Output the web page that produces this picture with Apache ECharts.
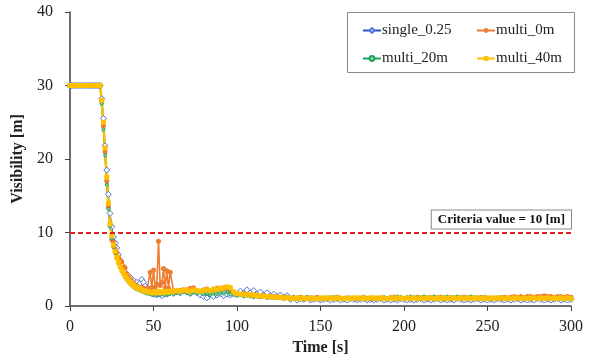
<!DOCTYPE html>
<html>
<head>
<meta charset="utf-8">
<script src="https://cdn.jsdelivr.net/npm/echarts@6/dist/echarts.min.js"></script>
<style>
  html, body { margin: 0; padding: 0; background: #fff; }
  #chart { width: 595px; height: 358px; }
</style>
</head>
<body>
<div id="chart"></div>
<script>
const times = [
  0, 1, 2, 3, 4, 5, 6, 7, 8, 9, 10, 11, 12, 13, 14, 15, 16, 17, 18,
  19, 20, 21, 22, 23, 24, 25, 26, 27, 28, 29, 30, 31, 32, 33, 34, 35, 36, 37, 38,
  39, 40, 41, 42, 43, 44, 45, 46, 47, 48, 49, 50, 51, 52, 53, 54, 55, 56, 57, 58, 59, 60,
  62, 64, 66, 68, 70, 72, 74, 76, 78, 80, 82, 84, 86, 88, 90, 92, 94, 96, 98, 100,
  102, 104, 106, 108, 110, 112, 114, 116, 118, 120, 122, 124, 126, 128, 130,
  132, 134, 136, 138, 140, 142, 144, 146, 148, 150, 152, 154, 156, 158, 160, 162, 164, 166, 168, 170,
  172, 174, 176, 178, 180, 182, 184, 186, 188, 190, 192, 194, 196, 198, 200, 202, 204, 206, 208, 210,
  212, 214, 216, 218, 220, 222, 224, 226, 228, 230, 232, 234, 236, 238, 240, 242, 244, 246, 248, 250,
  252, 254, 256, 258, 260, 262, 264, 266, 268, 270, 272, 274, 276, 278, 280, 282, 284, 286, 288, 290,
  292, 294, 296, 298, 300
];

const single025 = [
  30, 30, 30, 30, 30, 30, 30, 30, 30, 30, 30, 30, 30, 30, 30, 30, 30, 30, 30,
  28.2, 25.5, 21.8, 18.5, 15.2, 12.6, 10.8, 9.4, 8.6, 7.9, 7.0, 6.2, 5.6, 5.0, 4.6, 4.0, 3.6, 3.9, 3.2, 3.5,
  2.9, 3.2, 2.6, 3.1, 3.6, 3.2, 2.7, 2.4, 2.1, 1.9, 1.7, 1.6, 1.8, 1.5, 1.9, 1.6, 1.4, 1.7, 1.9, 1.6, 2.0, 1.8,
  1.7, 2.0, 1.8, 2.1, 1.9, 1.7, 2.0, 1.8, 1.5, 1.3, 1.1, 1.6, 1.3, 1.5, 1.7, 1.4, 1.6, 1.5, 1.8, 1.6,
  2.0, 1.7, 2.2, 1.8, 2.1, 1.6, 1.9, 1.5, 1.8, 1.4, 1.6, 1.3, 1.5, 1.2, 1.4,
  0.9, 1.1, 0.8, 1.0, 0.9, 1.1, 0.8, 0.9, 1.0, 0.8, 0.9, 1.0, 0.8, 0.9, 1.0, 0.8, 0.9, 0.8, 1.0, 0.9,
  0.8, 0.9, 1.0, 0.8, 0.9, 0.8, 0.9, 1.0, 0.8, 0.9, 0.8, 0.9, 0.8, 1.0, 0.9, 0.8, 0.9, 0.8, 0.9, 1.0,
  0.8, 0.9, 0.8, 0.9, 1.0, 0.8, 0.9, 0.8, 0.9, 0.8, 1.0, 0.9, 0.8, 0.9, 0.8, 0.9, 1.0, 0.8, 0.9, 0.8,
  0.9, 0.8, 1.0, 0.9, 0.8, 0.9, 0.8, 0.9, 1.0, 0.8, 0.9, 0.8, 0.9, 0.8, 1.0, 0.9, 0.8, 0.9, 0.8, 0.9,
  1.0, 0.8, 0.9, 0.8, 0.9
];

const multi0m = [
  30, 30, 30, 30, 30, 30, 30, 30, 30, 30, 30, 30, 30, 30, 30, 30, 30, 30, 30,
  27.8, 24.5, 21.0, 17.0, 13.5, 11.0, 9.0, 8.6, 7.8, 7.2, 6.6, 6.3, 6.0, 5.3, 5.2, 4.4, 4.0, 3.6, 3.4, 3.1,
  2.9, 2.7, 2.6, 2.5, 2.5, 2.4, 2.3, 2.2, 2.4, 4.6, 2.5, 4.9, 2.6, 3.0, 8.8, 2.8, 3.2, 5.1, 2.5, 4.8, 2.4, 4.6,
  2.0, 1.9, 2.1, 2.0, 2.2, 2.4, 2.5, 2.1, 2.0, 2.2, 2.3, 2.1, 2.2, 2.4, 2.2, 2.3, 2.4, 2.2, 1.8, 1.7,
  1.6, 1.7, 1.5, 1.5, 1.4, 1.4, 1.3, 1.4, 1.3, 1.2, 1.3, 1.2, 1.2, 1.1, 1.2,
  1.1, 1.0, 1.1, 1.2, 1.0, 1.1, 1.0, 1.1, 1.2, 1.0, 1.1, 1.0, 1.1, 1.0, 1.2, 1.1, 1.0, 1.1, 1.0, 1.1,
  1.0, 1.1, 1.2, 1.0, 1.1, 1.0, 1.1, 1.0, 1.1, 1.0, 1.1, 1.2, 1.0, 1.1, 1.0, 1.1, 1.0, 1.1, 1.2, 1.0,
  1.1, 1.0, 1.1, 1.0, 1.1, 1.2, 1.0, 1.1, 1.0, 1.1, 1.0, 1.1, 1.2, 1.1, 1.0, 1.1, 1.0, 1.1, 1.2, 1.1,
  1.0, 1.1, 1.0, 1.1, 1.2, 1.1, 1.2, 1.3, 1.2, 1.3, 1.2, 1.3, 1.3, 1.2, 1.3, 1.3, 1.4, 1.3, 1.3, 1.2,
  1.3, 1.3, 1.2, 1.3, 1.2
];

const multi20m = [
  30, 30, 30, 30, 30, 30, 30, 30, 30, 30, 30, 30, 30, 30, 30, 30, 30, 30, 30,
  27.5, 24.0, 20.5, 16.5, 13.2, 10.8, 9.2, 8.0, 7.2, 6.5, 5.8, 5.2, 4.7, 4.3, 3.9, 3.6, 3.3, 3.0, 2.8, 2.6,
  2.4, 2.3, 2.2, 2.1, 2.0, 1.9, 1.8, 1.7, 1.7, 1.6, 1.6, 1.5, 1.6, 1.5, 1.7, 1.5, 1.6, 1.8, 1.5, 1.7, 1.6, 1.7,
  1.6, 1.8, 1.7, 1.9, 1.8, 1.6, 1.9, 1.7, 1.8, 1.6, 1.7, 1.5, 1.7, 1.6, 1.8, 1.7, 1.9, 1.6, 1.5, 1.4,
  1.5, 1.3, 1.4, 1.3, 1.2, 1.3, 1.2, 1.3, 1.1, 1.2, 1.1, 1.2, 1.1, 1.0, 1.1,
  1.0, 1.1, 1.0, 1.1, 1.0, 1.1, 1.2, 1.0, 1.1, 1.0, 1.1, 1.0, 1.1, 1.2, 1.0, 1.1, 1.0, 1.1, 1.0, 1.1,
  1.0, 1.1, 1.2, 1.1, 1.0, 1.1, 1.0, 1.1, 1.2, 1.1, 1.2, 1.1, 1.3, 1.2, 1.1, 1.2, 1.3, 1.2, 1.1, 1.2,
  1.3, 1.2, 1.2, 1.3, 1.2, 1.1, 1.2, 1.3, 1.2, 1.2, 1.3, 1.2, 1.1, 1.2, 1.3, 1.2, 1.1, 1.2, 1.1, 1.0,
  1.1, 1.0, 1.1, 1.2, 1.0, 1.1, 1.0, 1.1, 1.0, 1.1, 1.0, 1.1, 1.0, 1.1, 1.0, 1.1, 1.0, 1.0, 1.1, 1.0,
  1.1, 1.0, 1.1, 1.0, 1.1
];

const multi40m = [
  30, 30, 30, 30, 30, 30, 30, 30, 30, 30, 30, 30, 30, 30, 30, 30, 30, 30, 30,
  28.0, 25.0, 21.5, 17.5, 14.0, 11.2, 9.6, 8.3, 7.4, 6.6, 6.0, 5.4, 4.9, 4.5, 4.1, 3.8, 3.5, 3.2, 3.0, 2.8,
  2.6, 2.5, 2.4, 2.3, 2.2, 2.1, 2.0, 2.0, 1.9, 1.9, 1.8, 1.8, 1.9, 1.8, 2.0, 1.9, 1.8, 1.9, 2.0, 1.9, 2.0, 1.9,
  2.0, 2.1, 2.0, 2.2, 2.1, 2.0, 2.2, 2.1, 2.0, 2.1, 2.2, 2.1, 2.3, 2.2, 2.4, 2.5, 2.6, 2.5, 1.9, 1.7,
  1.6, 1.6, 1.5, 1.5, 1.5, 1.4, 1.4, 1.3, 1.3, 1.3, 1.2, 1.2, 1.2, 1.1, 1.1,
  1.1, 1.0, 1.1, 1.0, 1.1, 1.0, 1.1, 1.0, 1.0, 1.1, 1.0, 1.1, 1.1, 1.0, 1.1, 1.0, 1.0, 1.1, 1.0, 1.1,
  1.1, 1.0, 1.1, 1.0, 1.1, 1.1, 1.0, 1.1, 1.0, 1.0, 1.1, 1.0, 1.1, 1.1, 1.0, 1.1, 1.0, 1.1, 1.0, 1.1,
  1.0, 1.1, 1.1, 1.0, 1.1, 1.0, 1.1, 1.0, 1.1, 1.1, 1.0, 1.1, 1.0, 1.1, 1.0, 1.1, 1.1, 1.0, 1.1, 1.0,
  1.1, 1.0, 1.1, 1.1, 1.0, 1.1, 1.0, 1.1, 1.1, 1.0, 1.1, 1.0, 1.1, 1.1, 1.0, 1.1, 1.0, 1.1, 1.0, 1.1,
  1.0, 1.1, 1.0, 1.1, 1.0
];

const criteriaValue = 10;
const xTicks = { min: 0, max: 300, interval: 50 };
const yTicks = { min: 0, max: 40, interval: 10 };

const FONT = '"Liberation Serif", "DejaVu Serif", serif';

const pairs = (ys) => times.map((t, i) => [t, ys[i]]);

const chart = echarts.init(document.getElementById('chart'));

const axisLine = { show: true, lineStyle: { color: '#404040', width: 1.5 } };

chart.setOption({
  animation: false,
  backgroundColor: '#fff',
  grid: { left: 70, right: 24, top: 12, bottom: 52, containLabel: false, outerBoundsMode: 'none' },
  xAxis: {
    type: 'value',
    min: xTicks.min, max: xTicks.max, interval: xTicks.interval,
    name: 'Time [s]',
    nameLocation: 'middle',
    nameGap: 26,
    nameTextStyle: { fontFamily: FONT, fontWeight: 'bold', fontSize: 16, color: '#222' },
    axisLine: axisLine,
    axisTick: { show: true, length: 5, lineStyle: { color: '#404040' } },
    axisLabel: { fontFamily: FONT, fontSize: 16, color: '#222', margin: 13 },
    splitLine: { show: false }
  },
  yAxis: {
    type: 'value',
    min: yTicks.min, max: yTicks.max, interval: yTicks.interval,
    name: 'Visibility [m]',
    nameLocation: 'middle',
    nameGap: 42,
    nameTextStyle: { fontFamily: FONT, fontWeight: 'bold', fontSize: 16, color: '#222' },
    axisLine: axisLine,
    axisTick: { show: true, length: 5, lineStyle: { color: '#404040' } },
    axisLabel: { fontFamily: FONT, fontSize: 16, color: '#222', margin: 17 },
    splitLine: { show: false }
  },
  legend: [
    {
      orient: 'vertical', left: 357, top: 18, itemGap: 13,
      itemWidth: 18, itemHeight: 6,
      textStyle: { fontFamily: FONT, fontSize: 15, color: '#222', padding: [0, 0, 0, -4] },
      data: ['single_0.25', 'multi_20m']
    },
    {
      orient: 'vertical', left: 471, top: 18, itemGap: 13,
      itemWidth: 18, itemHeight: 6,
      textStyle: { fontFamily: FONT, fontSize: 15, color: '#222', padding: [0, 0, 0, -4] },
      data: ['multi_0m', 'multi_40m']
    }
  ],
  graphic: [
    {
      type: 'rect', left: 347, top: 12, z: 0,
      shape: { width: 227, height: 60 },
      style: { fill: '#fff', stroke: '#8a8a8a', lineWidth: 1 }
    }
  ],
  series: [
    {
      name: 'single_0.25', type: 'line', data: pairs(single025),
      symbol: 'diamond', symbolSize: 6, showAllSymbol: true,
      lineStyle: { color: '#2f4fc0', width: 1.2 },
      itemStyle: { color: '#fff', borderColor: '#4d72d6', borderWidth: 1 },
      markLine: {
        silent: true, symbol: 'none',
        lineStyle: { color: '#e02020', type: [5, 3], width: 2 },
        label: {
          show: true, position: 'insideEndTop', distance: [0, 4],
          formatter: 'Criteria value = 10 [m]',
          fontFamily: FONT, fontWeight: 'bold', fontSize: 13, color: '#111',
          backgroundColor: '#fff', borderColor: '#8a8a8a', borderWidth: 1,
          padding: [3, 6, 2, 6]
        },
        data: [{ yAxis: criteriaValue }]
      }
    },
    {
      name: 'multi_0m', type: 'line', data: pairs(multi0m),
      symbol: 'circle', symbolSize: 5, showAllSymbol: true,
      lineStyle: { color: '#ed7d31', width: 1.6 },
      itemStyle: { color: '#ed7d31' }
    },
    {
      name: 'multi_20m', type: 'line', data: pairs(multi20m),
      symbol: 'circle', symbolSize: 3, showAllSymbol: true,
      lineStyle: { color: '#1fa55a', width: 1.6 },
      itemStyle: { color: '#8fd6a8', borderColor: '#1fa55a', borderWidth: 1 }
    },
    {
      name: 'multi_40m', type: 'line', data: pairs(multi40m),
      symbol: 'rect', symbolSize: 5, showAllSymbol: true,
      lineStyle: { color: '#ffc000', width: 2.5 },
      itemStyle: { color: '#ffc000' }
    }
  ]
});
</script>
</body>
</html>
